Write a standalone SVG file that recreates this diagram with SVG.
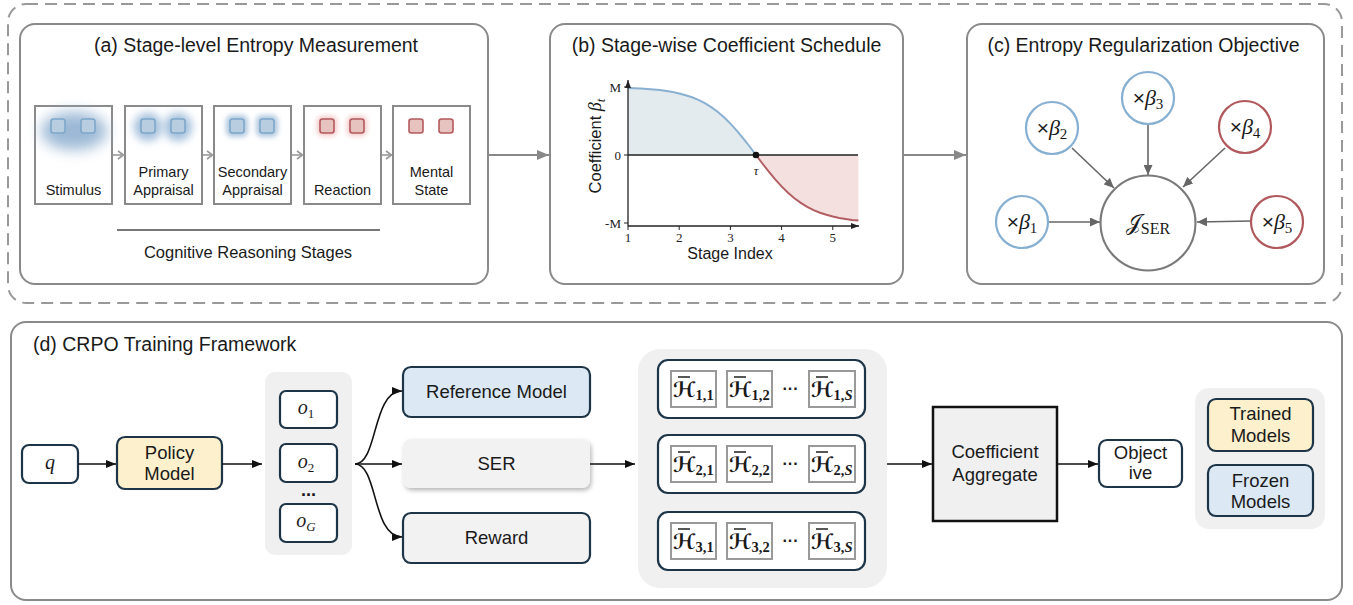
<svg xmlns="http://www.w3.org/2000/svg" width="1353" height="605" viewBox="0 0 1353 605">
<style>
text{font-family:"Liberation Sans",Arial,sans-serif;fill:#1a1a1a}
.panel{fill:#fff;stroke:#8a8a8a;stroke-width:2}
.title{font-size:19.5px;text-anchor:middle}
.stage{fill:#fff;stroke:#8a8a8a;stroke-width:2}
.slab{font-size:14.5px;text-anchor:middle}
.bsq{fill:#b9cde1;stroke:#7ea7ca;stroke-width:1.6}
.rsq{fill:#e7c3bf;stroke:#b45a5e;stroke-width:1.6}
.chev{stroke:#999;stroke-width:1.6;fill:none}
.serif{font-family:"Liberation Serif","DejaVu Serif",serif}
.tick{font-family:"Liberation Serif","DejaVu Serif",serif;font-size:13px;fill:#222}
.bc{fill:#fff;stroke:#86afd2;stroke-width:2.2}
.rc{fill:#fff;stroke:#b0585c;stroke-width:2.2}
.clab{font-family:"Liberation Serif","DejaVu Serif",serif;font-size:22px;text-anchor:middle}
.tm{font-family:"Liberation Sans",Arial,sans-serif;font-size:21px}
.carr{stroke:#666;stroke-width:1.6;fill:none}
.dk{stroke:#1d3547;stroke-width:2.2}
.nl{font-size:18.5px;text-anchor:middle}
.grp{fill:#f0f0f0}
.con{stroke:#111;stroke-width:1.6;fill:none}
.hb{fill:#fff;stroke:#999;stroke-width:2}
.hl{font-family:"DejaVu Serif","DejaVu Sans",serif;font-weight:bold;font-size:21px}
.hs{font-family:"Liberation Serif","DejaVu Serif",serif;font-weight:bold;font-size:14.5px}
.bar{stroke:#111;stroke-width:1.4}
.ol{font-family:"Liberation Serif","DejaVu Serif",serif;font-style:italic;font-size:20px;text-anchor:middle}
</style>
<defs>
<marker id="ah" viewBox="0 0 10 8" refX="10" refY="4" markerWidth="10" markerHeight="8" markerUnits="userSpaceOnUse" orient="auto"><path d="M0,0 L10,4 L0,8 z" fill="#111"/></marker>
<marker id="ahg" viewBox="0 0 12 10" refX="12" refY="5" markerWidth="12" markerHeight="10" markerUnits="userSpaceOnUse" orient="auto"><path d="M0,0 L12,5 L0,10 z" fill="#888"/></marker>
<marker id="ahc" viewBox="0 0 10 9" refX="10" refY="4.5" markerWidth="10" markerHeight="9" markerUnits="userSpaceOnUse" orient="auto"><path d="M0,0 L10,4.5 L0,9 z" fill="#666"/></marker>
<marker id="ahk" viewBox="0 0 8 6" refX="8" refY="3" markerWidth="8" markerHeight="6" markerUnits="userSpaceOnUse" orient="auto"><path d="M0,0 L8,3 L0,6 z" fill="#222"/></marker>
<filter id="gL" x="-100%" y="-100%" width="300%" height="300%"><feGaussianBlur stdDeviation="7"/></filter>
<filter id="gM" x="-100%" y="-100%" width="300%" height="300%"><feGaussianBlur stdDeviation="4.5"/></filter>
<filter id="gS" x="-100%" y="-100%" width="300%" height="300%"><feGaussianBlur stdDeviation="2.6"/></filter>
<filter id="sh" x="-20%" y="-30%" width="140%" height="170%"><feDropShadow dx="1.5" dy="2.5" stdDeviation="2.2" flood-color="#000" flood-opacity="0.28"/></filter>
</defs>

<rect x="8" y="4" width="1334" height="299" rx="18" fill="none" stroke="#999" stroke-width="2" stroke-dasharray="12 7"/>

<!-- Panel (a) -->
<g id="panel-a">
<rect class="panel" x="20" y="24" width="468" height="260" rx="15"/>
<text class="title" x="256" y="52">(a) Stage-level Entropy Measurement</text>
<g id="stage-stimulus">
<rect class="stage" x="35" y="106" width="77" height="98"/>
<ellipse cx="74" cy="131" rx="33" ry="19" fill="#98b6d4" opacity="0.95" filter="url(#gL)"/>
<rect class="bsq" x="51" y="119" width="14" height="14" rx="2.5"/>
<rect class="bsq" x="81" y="119" width="14" height="14" rx="2.5"/>
<text class="slab" x="73.5" y="195">Stimulus</text>
</g>
<g id="stage-primary">
<rect class="stage" x="125" y="106" width="77" height="98"/>
<circle cx="148" cy="127" r="14" fill="#a3bfdb" filter="url(#gM)"/>
<circle cx="178" cy="127" r="14" fill="#a3bfdb" filter="url(#gM)"/>
<rect class="bsq" x="141" y="119" width="14" height="14" rx="2.5"/>
<rect class="bsq" x="171" y="119" width="14" height="14" rx="2.5"/>
<text class="slab" x="163.5" y="177">Primary</text>
<text class="slab" x="163.5" y="195">Appraisal</text>
</g>
<g id="stage-secondary">
<rect class="stage" x="214" y="106" width="77" height="98"/>
<rect x="226" y="115" width="22" height="22" rx="6" fill="#a9c3dc" opacity="0.9" filter="url(#gS)"/>
<rect x="256" y="115" width="22" height="22" rx="6" fill="#a9c3dc" opacity="0.9" filter="url(#gS)"/>
<rect class="bsq" x="230" y="119" width="14" height="14" rx="2.5"/>
<rect class="bsq" x="260" y="119" width="14" height="14" rx="2.5"/>
<text class="slab" x="252.5" y="177">Secondary</text>
<text class="slab" x="252.5" y="195">Appraisal</text>
</g>
<g id="stage-reaction">
<rect class="stage" x="304" y="106" width="77" height="98"/>
<rect x="317" y="116" width="20" height="20" rx="5" fill="#f0b3b3" opacity="0.7" filter="url(#gS)"/>
<rect x="347" y="116" width="20" height="20" rx="5" fill="#f0b3b3" opacity="0.7" filter="url(#gS)"/>
<rect class="rsq" x="320" y="119" width="14" height="14" rx="2.5"/>
<rect class="rsq" x="350" y="119" width="14" height="14" rx="2.5"/>
<text class="slab" x="342.5" y="195">Reaction</text>
</g>
<g id="stage-mental">
<rect class="stage" x="393" y="106" width="77" height="98"/>
<rect class="rsq" x="409" y="119" width="14" height="14" rx="2.5"/>
<rect class="rsq" x="439" y="119" width="14" height="14" rx="2.5"/>
<text class="slab" x="431.5" y="177">Mental</text>
<text class="slab" x="431.5" y="195">State</text>
</g>
<g id="stage-arrows">
<line x1="113" y1="155" x2="123" y2="155" stroke="#999" stroke-width="1.6"/><path class="chev" d="M118,151 L123.5,155 L118,159"/>
<line x1="203" y1="155" x2="212" y2="155" stroke="#999" stroke-width="1.6"/><path class="chev" d="M207,151 L212.5,155 L207,159"/>
<line x1="292" y1="155" x2="302" y2="155" stroke="#999" stroke-width="1.6"/><path class="chev" d="M297,151 L302.5,155 L297,159"/>
<line x1="382" y1="155" x2="391" y2="155" stroke="#999" stroke-width="1.6"/><path class="chev" d="M386,151 L391.5,155 L386,159"/>
</g>
<line x1="117" y1="230" x2="380" y2="230" stroke="#777" stroke-width="2"/>
<text x="248" y="258" font-size="16.5" text-anchor="middle">Cognitive Reasoning Stages</text>
</g>

<!-- Panel (b) -->
<g id="panel-b">
<rect class="panel" x="550" y="24" width="353" height="260" rx="15"/>
<text class="title" x="726.5" y="52">(b) Stage-wise Coefficient Schedule</text>
<path d="M628,155 L628,87.9 L634.4,88.2 L640.8,88.5 L647.2,88.9 L653.6,89.4 L660,90.1 L666.4,91 L672.8,92 L679.2,93.5 L685.6,95.2 L692,97.3 L698.4,99.9 L704.8,103.2 L711.2,107.1 L717.6,111.8 L724,117.3 L730.4,123.6 L736.8,130.6 L743.2,138.3 L749.6,146.5 L756,155 Z" fill="#e3ebee"/>
<path d="M756,155 L762.4,163.5 L768.8,171.7 L775.2,179.4 L781.6,186.4 L788,192.7 L794.4,198.2 L800.8,202.9 L807.2,206.8 L813.6,210.1 L820,212.7 L826.4,214.8 L832.8,216.5 L839.2,218 L845.6,219 L852,219.9 L858.4,220.6 L858.4,155 Z" fill="#f3e0df"/>
<path d="M628,87.9 L634.4,88.2 L640.8,88.5 L647.2,88.9 L653.6,89.4 L660,90.1 L666.4,91 L672.8,92 L679.2,93.5 L685.6,95.2 L692,97.3 L698.4,99.9 L704.8,103.2 L711.2,107.1 L717.6,111.8 L724,117.3 L730.4,123.6 L736.8,130.6 L743.2,138.3 L749.6,146.5 L756,155" fill="none" stroke="#8ab0d1" stroke-width="2"/>
<path d="M756,155 L762.4,163.5 L768.8,171.7 L775.2,179.4 L781.6,186.4 L788,192.7 L794.4,198.2 L800.8,202.9 L807.2,206.8 L813.6,210.1 L820,212.7 L826.4,214.8 L832.8,216.5 L839.2,218 L845.6,219 L852,219.9 L858.4,220.6" fill="none" stroke="#b35e62" stroke-width="2"/>
<line x1="628" y1="155" x2="858" y2="155" stroke="#222" stroke-width="1.3"/>
<line x1="628" y1="226" x2="628" y2="80" stroke="#222" stroke-width="1.3" marker-end="url(#ahk)"/>
<line x1="628" y1="226" x2="859" y2="226" stroke="#222" stroke-width="1.3" marker-end="url(#ahk)"/>
<g stroke="#222" stroke-width="1">
<line x1="624" y1="87" x2="628" y2="87"/><line x1="624" y1="155" x2="628" y2="155"/><line x1="624" y1="223" x2="628" y2="223"/>
<line x1="628" y1="226" x2="628" y2="230"/><line x1="679.2" y1="226" x2="679.2" y2="230"/><line x1="730.4" y1="226" x2="730.4" y2="230"/><line x1="781.6" y1="226" x2="781.6" y2="230"/><line x1="832.8" y1="226" x2="832.8" y2="230"/>
</g>
<text class="tick" x="621" y="91.5" text-anchor="end">M</text>
<text class="tick" x="621" y="159.5" text-anchor="end">0</text>
<text class="tick" x="621" y="227.5" text-anchor="end">-M</text>
<text class="tick" x="628" y="242" text-anchor="middle">1</text>
<text class="tick" x="679.2" y="242" text-anchor="middle">2</text>
<text class="tick" x="730.4" y="242" text-anchor="middle">3</text>
<text class="tick" x="781.6" y="242" text-anchor="middle">4</text>
<text class="tick" x="832.8" y="242" text-anchor="middle">5</text>
<circle cx="756" cy="155" r="3.3" fill="#111"/>
<text class="tick" x="756" y="175" text-anchor="middle" font-style="italic">τ</text>
<text x="730" y="259" font-size="16" text-anchor="middle">Stage Index</text>
<text transform="translate(601,146) rotate(-90)" font-size="16.5" text-anchor="middle">Coefficient <tspan class="serif" font-style="italic" font-size="18">β</tspan><tspan class="serif" font-style="italic" font-size="13" dy="4">t</tspan></text>
</g>

<!-- Panel (c) -->
<g id="panel-c">
<rect class="panel" x="967" y="24" width="357" height="260" rx="15"/>
<text class="title" x="1143.5" y="52">(c) Entropy Regularization Objective</text>
<g id="c-arrows">
<line class="carr" x1="1148" y1="124" x2="1148" y2="175" marker-end="url(#ahc)"/>
<line class="carr" x1="1072" y1="148" x2="1114" y2="188" marker-end="url(#ahc)"/>
<line class="carr" x1="1225" y1="148" x2="1183" y2="187" marker-end="url(#ahc)"/>
<line class="carr" x1="1048" y1="222" x2="1100" y2="222" marker-end="url(#ahc)"/>
<line class="carr" x1="1251" y1="221" x2="1197" y2="222" marker-end="url(#ahc)"/>
</g>
<g id="node-b1"><circle class="bc" cx="1022" cy="222" r="26"/><text class="clab" x="1022" y="229"><tspan class="tm">×</tspan><tspan font-style="italic">β</tspan><tspan font-size="15" dy="4">1</tspan></text></g>
<g id="node-b2"><circle class="bc" cx="1052" cy="128" r="26"/><text class="clab" x="1052" y="135"><tspan class="tm">×</tspan><tspan font-style="italic">β</tspan><tspan font-size="15" dy="4">2</tspan></text></g>
<g id="node-b3"><circle class="bc" cx="1148" cy="98" r="26"/><text class="clab" x="1148" y="105"><tspan class="tm">×</tspan><tspan font-style="italic">β</tspan><tspan font-size="15" dy="4">3</tspan></text></g>
<g id="node-b4"><circle class="rc" cx="1245" cy="127" r="26"/><text class="clab" x="1245" y="134"><tspan class="tm">×</tspan><tspan font-style="italic">β</tspan><tspan font-size="15" dy="4">4</tspan></text></g>
<g id="node-b5"><circle class="rc" cx="1277" cy="222" r="26"/><text class="clab" x="1277" y="229"><tspan class="tm">×</tspan><tspan font-style="italic">β</tspan><tspan font-size="15" dy="4">5</tspan></text></g>
<g id="node-jser"><circle cx="1148" cy="223" r="47.5" fill="#fff" stroke="#7a7a7a" stroke-width="2.2"/><text class="clab" x="1148" y="230" font-size="25">𝒥<tspan font-size="16" dy="4">SER</tspan></text></g>
</g>

<!-- panel connectors -->
<g id="panel-connectors">
<line x1="489" y1="155" x2="549" y2="155" stroke="#888" stroke-width="2" marker-end="url(#ahg)"/>
<line x1="904" y1="155" x2="966" y2="155" stroke="#888" stroke-width="2" marker-end="url(#ahg)"/>
</g>

<!-- Panel (d) -->
<g id="panel-d">
<rect class="panel" x="11" y="322" width="1331" height="278" rx="15"/>
<text x="33" y="351" font-size="19.5">(d) CRPO Training Framework</text>
</g>

<g id="node-q"><rect class="dk" x="22" y="445" width="56" height="38" rx="7" fill="#fff"/><text class="ol" x="50" y="469">q</text></g>
<g id="node-policy"><rect class="dk" x="117" y="437" width="105" height="52" rx="8" fill="#fdf0cd"/><text class="nl" x="169.5" y="459">Policy</text><text class="nl" x="169.5" y="480">Model</text></g>

<g id="group-outputs">
<rect class="grp" x="265" y="372" width="87" height="183" rx="10"/>
<g id="node-o1"><rect class="dk" x="280" y="391" width="57" height="37" rx="6" fill="#fff"/><text class="ol" x="306" y="414">o<tspan font-size="13" dy="4" font-style="normal">1</tspan></text></g>
<g id="node-o2"><rect class="dk" x="280" y="444" width="57" height="38" rx="6" fill="#fff"/><text class="ol" x="306" y="468">o<tspan font-size="13" dy="4" font-style="normal">2</tspan></text></g>
<text x="308.5" y="496" font-size="18" font-weight="bold" text-anchor="middle">...</text>
<g id="node-oG"><rect class="dk" x="280" y="504" width="57" height="38" rx="6" fill="#fff"/><text class="ol" x="306" y="527">o<tspan font-size="13" dy="4">G</tspan></text></g>
</g>

<g id="node-ref"><rect class="dk" x="403" y="367" width="187" height="50" rx="8" fill="#dce9f5"/><text class="nl" x="496.5" y="398" font-size="19">Reference Model</text></g>
<g id="node-ser"><rect x="403" y="439" width="187" height="49" rx="8" fill="#f2f2f2" filter="url(#sh)"/><text class="nl" x="496.5" y="470" font-size="19">SER</text></g>
<g id="node-reward"><rect class="dk" x="403" y="513" width="187" height="50" rx="8" fill="#f2f2f2"/><text class="nl" x="496.5" y="544" font-size="19">Reward</text></g>

<g id="group-entropy">
<rect class="grp" x="638" y="349" width="249" height="239" rx="22"/>
<g id="row1">
<rect class="dk" x="658" y="360" width="207" height="58" rx="10" fill="#fff"/>
<rect class="hb" x="671" y="371" width="45" height="36"/><rect class="hb" x="727" y="371" width="45" height="36"/><rect class="hb" x="809" y="371" width="46" height="36"/>
<text class="hl" x="673" y="397">ℋ<tspan class="hs" dy="3">1,1</tspan></text>
<text class="hl" x="729" y="397">ℋ<tspan class="hs" dy="3">1,2</tspan></text>
<text class="hl" x="811" y="397">ℋ<tspan class="hs" dy="3">1,<tspan font-style="italic">S</tspan></tspan></text>
<line class="bar" x1="678" y1="377" x2="690" y2="377"/><line class="bar" x1="734" y1="377" x2="746" y2="377"/><line class="bar" x1="816" y1="377" x2="828" y2="377"/>
<text x="790.5" y="394" font-size="16" font-weight="bold" text-anchor="middle">···</text>
</g>
<g id="row2">
<rect class="dk" x="658" y="435" width="207" height="58" rx="10" fill="#fff"/>
<rect class="hb" x="671" y="446" width="45" height="36"/><rect class="hb" x="727" y="446" width="45" height="36"/><rect class="hb" x="809" y="446" width="46" height="36"/>
<text class="hl" x="673" y="472">ℋ<tspan class="hs" dy="3">2,1</tspan></text>
<text class="hl" x="729" y="472">ℋ<tspan class="hs" dy="3">2,2</tspan></text>
<text class="hl" x="811" y="472">ℋ<tspan class="hs" dy="3">2,<tspan font-style="italic">S</tspan></tspan></text>
<line class="bar" x1="678" y1="452" x2="690" y2="452"/><line class="bar" x1="734" y1="452" x2="746" y2="452"/><line class="bar" x1="816" y1="452" x2="828" y2="452"/>
<text x="790.5" y="469" font-size="16" font-weight="bold" text-anchor="middle">···</text>
</g>
<g id="row3">
<rect class="dk" x="658" y="512" width="207" height="58" rx="10" fill="#fff"/>
<rect class="hb" x="671" y="523" width="45" height="36"/><rect class="hb" x="727" y="523" width="45" height="36"/><rect class="hb" x="809" y="523" width="46" height="36"/>
<text class="hl" x="673" y="549">ℋ<tspan class="hs" dy="3">3,1</tspan></text>
<text class="hl" x="729" y="549">ℋ<tspan class="hs" dy="3">3,2</tspan></text>
<text class="hl" x="811" y="549">ℋ<tspan class="hs" dy="3">3,<tspan font-style="italic">S</tspan></tspan></text>
<line class="bar" x1="678" y1="529" x2="690" y2="529"/><line class="bar" x1="734" y1="529" x2="746" y2="529"/><line class="bar" x1="816" y1="529" x2="828" y2="529"/>
<text x="790.5" y="546" font-size="16" font-weight="bold" text-anchor="middle">···</text>
</g>
</g>

<g id="node-coef"><rect x="933" y="407" width="124" height="114" fill="#f0f0f0" stroke="#111" stroke-width="2.5"/><text class="nl" x="995" y="458" font-size="19">Coefficient</text><text class="nl" x="995" y="481" font-size="19">Aggregate</text></g>
<g id="node-obj"><rect class="dk" x="1099" y="440" width="83" height="47" rx="8" fill="#fff"/><text class="nl" x="1140.5" y="459">Object</text><text class="nl" x="1140.5" y="479">ive</text></g>

<g id="legend">
<rect class="grp" x="1195" y="388" width="130" height="141" rx="14"/>
<g id="node-trained"><rect class="dk" x="1208" y="399" width="105" height="52" rx="8" fill="#fdf0cd"/><text class="nl" x="1260.5" y="420">Trained</text><text class="nl" x="1260.5" y="442">Models</text></g>
<g id="node-frozen"><rect class="dk" x="1208" y="465" width="105" height="51" rx="8" fill="#dce9f5"/><text class="nl" x="1260.5" y="487">Frozen</text><text class="nl" x="1260.5" y="508">Models</text></g>
</g>

<g id="connectors">
<line class="con" x1="78" y1="464" x2="116" y2="464" marker-end="url(#ah)"/>
<line class="con" x1="222" y1="464" x2="262" y2="464" marker-end="url(#ah)"/>
<path class="con" d="M355,464 C378,464 372,391 402,391" marker-end="url(#ah)"/>
<line class="con" x1="355" y1="464" x2="402" y2="464" marker-end="url(#ah)"/>
<path class="con" d="M355,464 C378,464 372,537 402,537" marker-end="url(#ah)"/>
<line class="con" x1="590" y1="464" x2="635" y2="464" marker-end="url(#ah)"/>
<line class="con" x1="887" y1="464" x2="932" y2="464" marker-end="url(#ah)"/>
<line class="con" x1="1057" y1="464" x2="1098" y2="464" marker-end="url(#ah)"/>
</g>
</svg>
